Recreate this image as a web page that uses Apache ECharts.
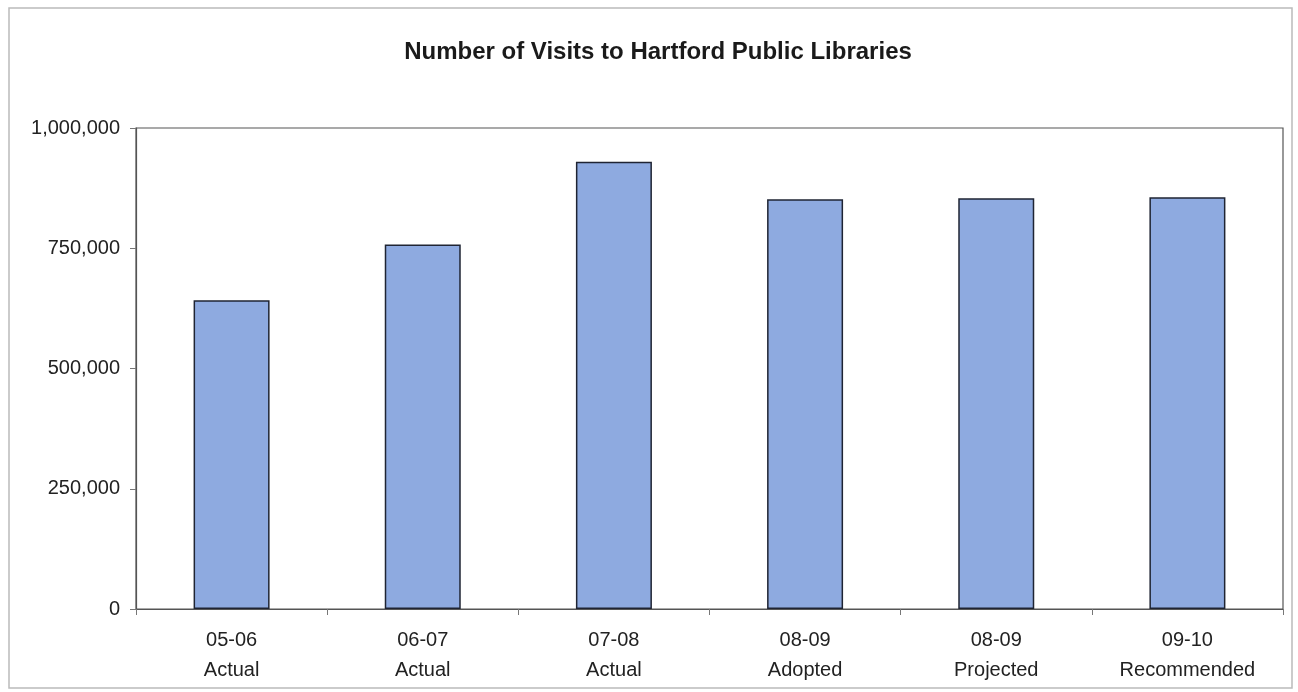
<!DOCTYPE html>
<html><head><meta charset="utf-8">
<script src="https://cdn.jsdelivr.net/npm/echarts@6/dist/echarts.min.js"></script>
<style>html,body{margin:0;padding:0;background:#fff}#c{width:1298px;height:692px}</style>
</head><body><div id="c"></div>
<script>
const categories = ["05-06\nActual","06-07\nActual","07-08\nActual","08-09\nAdopted","08-09\nProjected","09-10\nRecommended"];
const visits = [642000, 758000, 930000, 852000, 854000, 856000];
const yTicks = [0, 250000, 500000, 750000, 1000000];

const chart = echarts.init(document.getElementById('c'));
chart.setOption({
  backgroundColor:'#fff',
  animation:false,
  title:{text:'Number of Visits to Hartford Public Libraries',left:653,textAlign:'center',top:35,
    textStyle:{fontFamily:'Liberation Sans',fontSize:24,fontWeight:'bold',color:'#1a1a1a'}},
  graphic:[{type:'rect',shape:{x:9,y:8,width:1283,height:680},style:{fill:'none',stroke:'#bbb',lineWidth:1.5},silent:true}],
  grid:{left:136,right:15,top:128,bottom:83,show:true,borderColor:'#555',borderWidth:1.2,backgroundColor:'transparent'},
  xAxis:{type:'category',data:categories,
    axisLine:{lineStyle:{color:'#555',width:1.2}},
    axisTick:{show:true,length:6,lineStyle:{color:'#777'}},
    axisLabel:{fontFamily:'Liberation Sans',fontSize:20,color:'#222',lineHeight:30,margin:16}},
  yAxis:{type:'value',min:0,max:1000000,interval:250000,
    axisLine:{show:true,lineStyle:{color:'#555',width:1.2}},
    axisTick:{show:true,length:6,lineStyle:{color:'#777'}},
    splitLine:{show:false},
    axisLabel:{fontFamily:'Liberation Sans',fontSize:20,color:'#222',margin:16,
      formatter:v=>yTicks.includes(v)?v.toLocaleString('en-US'):''}},
  series:[{type:'bar',data:visits,barWidth:76,
    itemStyle:{color:'#8eaae0',borderColor:'#1f2433',borderWidth:1.5}}]
});
</script></body></html>
